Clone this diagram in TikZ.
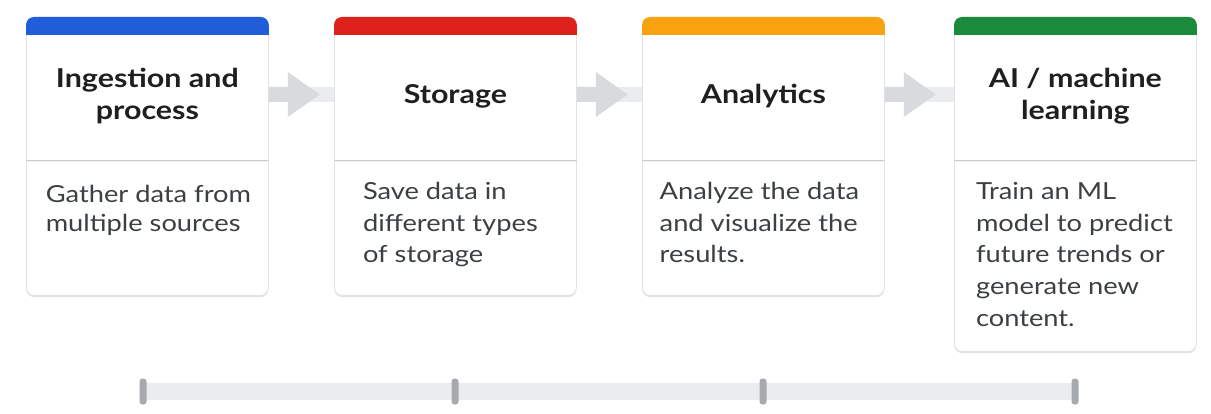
\documentclass[tikz,border=0pt]{standalone}
\usepackage{fontspec}
\setmainfont{Lato}
\newfontfamily\descfont[FakeStretch=1.16]{Lato}
\newfontfamily\titlefont[FakeStretch=1.17]{Lato}
\usetikzlibrary{calc,shadows}
\definecolor{cblue}{HTML}{1F5ED8}
\definecolor{cred}{HTML}{DC221B}
\definecolor{corange}{HTML}{F9A20F}
\definecolor{cgreen}{HTML}{1C8A3B}
\definecolor{bandcol}{HTML}{EBECEE}
\definecolor{arrowcol}{HTML}{D8DADE}
\definecolor{tickcol}{HTML}{A6A9AE}
\definecolor{edgecol}{HTML}{E2E3E5}
\definecolor{titlecol}{HTML}{1F1F1F}
\definecolor{desccol}{HTML}{3C4043}
\tikzset{
  card/.style={draw=edgecol, line width=0.8pt, fill=white, rounded corners=8pt,
    minimum width=242pt, anchor=north west, inner sep=0pt,
    drop shadow={shadow xshift=0pt, shadow yshift=-1.8pt, opacity=0.18, fill=black!60}},
  titletext/.style={font=\titlefont\fontsize{26}{32}\selectfont\bfseries, text=titlecol, align=center, inner sep=0pt},
  desctext/.style={font=\descfont\fontsize{23.5}{31.7}\selectfont, text=desccol, align=left, inner sep=0pt, anchor=north},
  divider/.style={draw=edgecol!90!black, line width=0.8pt},
  tick/.style={fill=tickcol, rounded corners=3pt}
}
\begin{document}
\begin{tikzpicture}[x=1pt,y=-1pt]
\useasboundingbox (0,0) rectangle (1211,414);
% cards
\node[card, minimum height=278pt] (c1) at (26,17) {};
\node[card, minimum height=278pt] (c2) at (334,17) {};
\node[card, minimum height=278pt] (c3) at (642,17) {};
\node[card, minimum height=334pt] (c4) at (954,17) {};
% colour bars and dividers
\foreach \c/\col in {c1/cblue,c2/cred,c3/corange,c4/cgreen}{
  \fill[\col] ($(\c.north west)+(0,18)$) {[rounded corners=8pt] -- (\c.north west) -- (\c.north east)} -- ($(\c.north east)+(0,18)$) -- cycle;
  \draw[black!6, line width=1.6pt] ($(\c.north west)+(2,144.5)$) -- ($(\c.north east)+(-2,144.5)$);
  \draw[divider] ($(\c.north west)+(0,143)$) -- ($(\c.north east)+(0,143)$);
}
% arrows between cards
\foreach \a/\b in {c1/c2,c2/c3,c3/c4}{
  \path ($(\a.north east)+(0,77.5)$) coordinate (s) ($(\b.north west)+(0,77.5)$) coordinate (e);
  \fill[bandcol] ($(s)+(0,-7.5)$) rectangle ($(e)+(0,7.5)$);
  \fill[arrowcol] ($(s)+(0,-7.5)$) -- ++(19,0) -- ++(0,-15) -- ++(32,22.5) -- ++(-32,22.5) -- ++(0,-15) -- ++(-19,0) -- cycle;
}
% titles
\node[titletext] (t1) at ($(c1.north)+(0,79)$) {Ingestion and\\process};
\node[titletext] (t2) at ($(c2.north)+(0,79)$) {Storage};
\node[titletext] (t3) at ($(c3.north)+(0,79)$) {Analytics};
\node[titletext] (t4) at ($(c4.north)+(0,79)$) {AI / machine\\learning};
% descriptions
\node[desctext, font=\descfont\fontsize{23.5}{28.5}\selectfont] (d1) at ($(c1.north)+(1,168)$) {Gather data from\\multiple sources};
\node[desctext] (d2) at ($(c2.north)+(-5,165)$) {Save data in\\different types\\of storage};
\node[desctext] (d3) at ($(c3.north)+(-4,165)$) {Analyze the data\\and visualize the\\results.};
\node[desctext] (d4) at ($(c4.north)+(-1,165)$) {Train an ML\\model to predict\\future trends or\\generate new\\content.};
% bottom timeline
\coordinate (k1) at (143,391.5);
\coordinate (k2) at (455,391.5);
\coordinate (k3) at (763,391.5);
\coordinate (k4) at (1075,391.5);
\fill[bandcol] ($(k1)+(0,-8.5)$) rectangle ($(k4)+(0,8.5)$);
\foreach \k in {k1,k2,k3,k4}{
  \fill[tick] ($(\k)+(-3.5,-13)$) rectangle ($(\k)+(3.5,13)$);
}
\end{tikzpicture}
\end{document}
